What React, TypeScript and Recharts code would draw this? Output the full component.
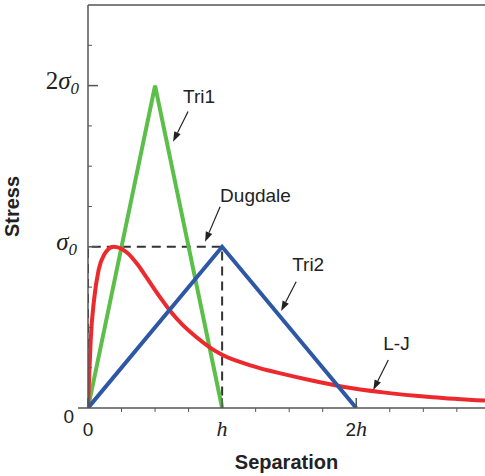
import * as React from 'react';
import { LineChart, Line, XAxis, YAxis, ReferenceLine, Label } from 'recharts';

// separation in units of h, stress in units of sigma_0
const tri1 = [
    { x: 0, y: 0 },
    { x: 0.5, y: 2 },
    { x: 1, y: 0 },
];
const tri2 = [
    { x: 0, y: 0 },
    { x: 1, y: 1 },
    { x: 2, y: 0 },
];
const dugdale = [
    { x: 0, y: 0 },
    { x: 0, y: 1 },
    { x: 1, y: 1 },
    { x: 1, y: 0 },
];
const lennardJones = [
    { x: 0, y: 0 },
    { x: 0.01, y: 0.22 },
    { x: 0.02, y: 0.42 },
    { x: 0.045, y: 0.67 },
    { x: 0.08, y: 0.86 },
    { x: 0.12, y: 0.95 },
    { x: 0.19, y: 1.0 },
    { x: 0.29, y: 0.965 },
    { x: 0.37, y: 0.89 },
    { x: 0.44, y: 0.805 },
    { x: 0.53, y: 0.695 },
    { x: 0.61, y: 0.605 },
    { x: 0.7, y: 0.52 },
    { x: 0.8, y: 0.445 },
    { x: 0.91, y: 0.375 },
    { x: 1.0, y: 0.33 },
    { x: 1.21, y: 0.265 },
    { x: 1.46, y: 0.21 },
    { x: 1.66, y: 0.172 },
    { x: 1.9, y: 0.132 },
    { x: 2.2, y: 0.097 },
    { x: 2.57, y: 0.067 },
    { x: 2.96, y: 0.046 },
];

const xTicks = [0, 0.25, 0.5, 0.75, 1, 1.25, 1.5, 1.75, 2, 2.25, 2.5, 2.75];
const yTicks = [0, 0.25, 0.5, 0.75, 1, 1.25, 1.5, 1.75, 2, 2.25, 2.5];

const annotations = [
    { text: 'Tri1', x1: 0.746, y1: 1.839, x2: 0.634, y2: 1.652, dx: -5, dy: -9 },
    { text: 'Dugdale', x1: 0.985, y1: 1.248, x2: 0.873, y2: 1.031, dx: 0, dy: -5 },
    { text: 'Tri2', x1: 1.552, y1: 0.783, x2: 1.44, y2: 0.602, dx: -4, dy: -11 },
    { text: 'L-J', x1: 2.239, y1: 0.298, x2: 2.127, y2: 0.112, dx: -5, dy: -10 },
];

const SANS = '"Liberation Sans", Arial, sans-serif';
const SERIF = '"Liberation Serif", "Times New Roman", serif';
const AXIS = '#555';

const XTick = (props: any) => {
    const { x, y, payload } = props;
    const v = payload.value;
    const major = v === 0 || v === 1 || v === 2;
    return (
        <g>
            {major ? (
                <line x1={x} y1={y} x2={x} y2={y - 10} stroke={AXIS} strokeWidth={1.5} />
            ) : (
                <line x1={x} y1={y} x2={x} y2={y + 4} stroke={AXIS} strokeWidth={1} />
            )}
            {v === 0 && (
                <text x={x} y={y + 28} textAnchor="middle" fontFamily={SANS} fontSize={19} fill="#222">0</text>
            )}
            {v === 1 && (
                <text x={x} y={y + 28} textAnchor="middle" fontFamily={SERIF} fontStyle="italic" fontSize={22} fill="#222">h</text>
            )}
            {v === 2 && (
                <text x={x} y={y + 28} textAnchor="middle" fill="#222">
                    <tspan fontFamily={SANS} fontSize={19}>2</tspan>
                    <tspan fontFamily={SERIF} fontStyle="italic" fontSize={22}>h</tspan>
                </text>
            )}
        </g>
    );
};

const YTick = (props: any) => {
    const { x, y, payload } = props;
    const v = payload.value;
    return (
        <g>
            {v === 0 && <line x1={x - 10} y1={y} x2={x} y2={y} stroke={AXIS} strokeWidth={1.5} />}
            {(v === 1 || v === 2) && <line x1={x} y1={y} x2={x + 10} y2={y} stroke={AXIS} strokeWidth={1.5} />}
            {v !== 0 && v !== 1 && v !== 2 && v !== 2.5 && (
                <line x1={x} y1={y} x2={x + 4} y2={y} stroke={AXIS} strokeWidth={1} />
            )}
            {v === 0 && (
                <text x={x - 14} y={y + 15} textAnchor="end" fontFamily={SANS} fontSize={19} fill="#222">0</text>
            )}
            {v === 1 && (
                <text x={x - 11} y={y + 3} textAnchor="end" fontFamily={SERIF} fill="#222">
                    <tspan fontStyle="italic" fontSize={25}>σ</tspan>
                    <tspan fontStyle="italic" fontSize={17} dy={5}>0</tspan>
                </text>
            )}
            {v === 2 && (
                <text x={x - 9} y={y + 3} textAnchor="end" fontFamily={SERIF} fill="#222">
                    <tspan fontSize={25}>2</tspan>
                    <tspan fontStyle="italic" fontSize={25}>σ</tspan>
                    <tspan fontStyle="italic" fontSize={17} dy={5}>0</tspan>
                </text>
            )}
        </g>
    );
};

const makeArrow = (text: string, dx: number, dy: number) => (props: any) => {
    const { x1, y1, x2, y2 } = props;
    const ang = Math.atan2(y2 - y1, x2 - x1);
    const len = 10;
    const half = 3.5;
    const bx = x2 - len * Math.cos(ang);
    const by = y2 - len * Math.sin(ang);
    const px = -Math.sin(ang) * half;
    const py = Math.cos(ang) * half;
    return (
        <g>
            <line x1={x1} y1={y1} x2={bx} y2={by} stroke="#222" strokeWidth={1.2} />
            <polygon points={`${x2},${y2} ${bx + px},${by + py} ${bx - px},${by - py}`} fill="#222" />
            <text x={x1 + dx} y={y1 + dy} fontFamily={SANS} fontSize={19} fill="#222">{text}</text>
        </g>
    );
};

export default function App() {
    return (
        <div style={{ position: 'absolute', left: 0, top: 0 }}>
            <LineChart width={485} height={476} margin={{ top: 5, right: 0, left: 0, bottom: 0 }}>
                <XAxis
                    dataKey="x"
                    type="number"
                    domain={[0, 2.96]}
                    ticks={xTicks}
                    tick={<XTick />}
                    tickLine={false}
                    tickSize={0}
                    tickMargin={0}
                    height={68}
                    stroke={AXIS}
                    strokeWidth={1.5}
                    allowDataOverflow
                >
                    <Label
                        value="Separation"
                        position="insideBottom"
                        offset={7}
                        style={{ fontFamily: SANS, fontSize: 20, fontWeight: 'bold', fill: '#222' }}
                    />
                </XAxis>
                <YAxis
                    dataKey="y"
                    type="number"
                    domain={[0, 2.5]}
                    ticks={yTicks}
                    tick={<YTick />}
                    tickLine={false}
                    tickSize={0}
                    tickMargin={0}
                    width={88}
                    stroke={AXIS}
                    strokeWidth={1.5}
                    allowDataOverflow
                >
                    <Label
                        value="Stress"
                        angle={-90}
                        position="insideLeft"
                        offset={12}
                        style={{ fontFamily: SANS, fontSize: 20, fontWeight: 'bold', fill: '#222', textAnchor: 'middle' }}
                    />
                </YAxis>
                <ReferenceLine y={2.5} stroke={AXIS} strokeWidth={1.5} />
                <Line
                    data={dugdale}
                    dataKey="y"
                    type="linear"
                    stroke="#333"
                    strokeWidth={2}
                    strokeDasharray="9 6"
                    dot={false}
                    isAnimationActive={false}
                />
                <Line data={tri1} dataKey="y" type="linear" stroke="#5cbf4a" strokeWidth={4} dot={false} isAnimationActive={false} />
                <Line data={lennardJones} dataKey="y" type="monotone" stroke="#ec2a2e" strokeWidth={4} dot={false} isAnimationActive={false} />
                <Line data={tri2} dataKey="y" type="linear" stroke="#2e58a6" strokeWidth={4} dot={false} isAnimationActive={false} />
                {annotations.map((a) => (
                    <ReferenceLine
                        key={a.text}
                        segment={[{ x: a.x1, y: a.y1 }, { x: a.x2, y: a.y2 }]}
                        shape={makeArrow(a.text, a.dx, a.dy)}
                    />
                ))}
            </LineChart>
        </div>
    );
}
